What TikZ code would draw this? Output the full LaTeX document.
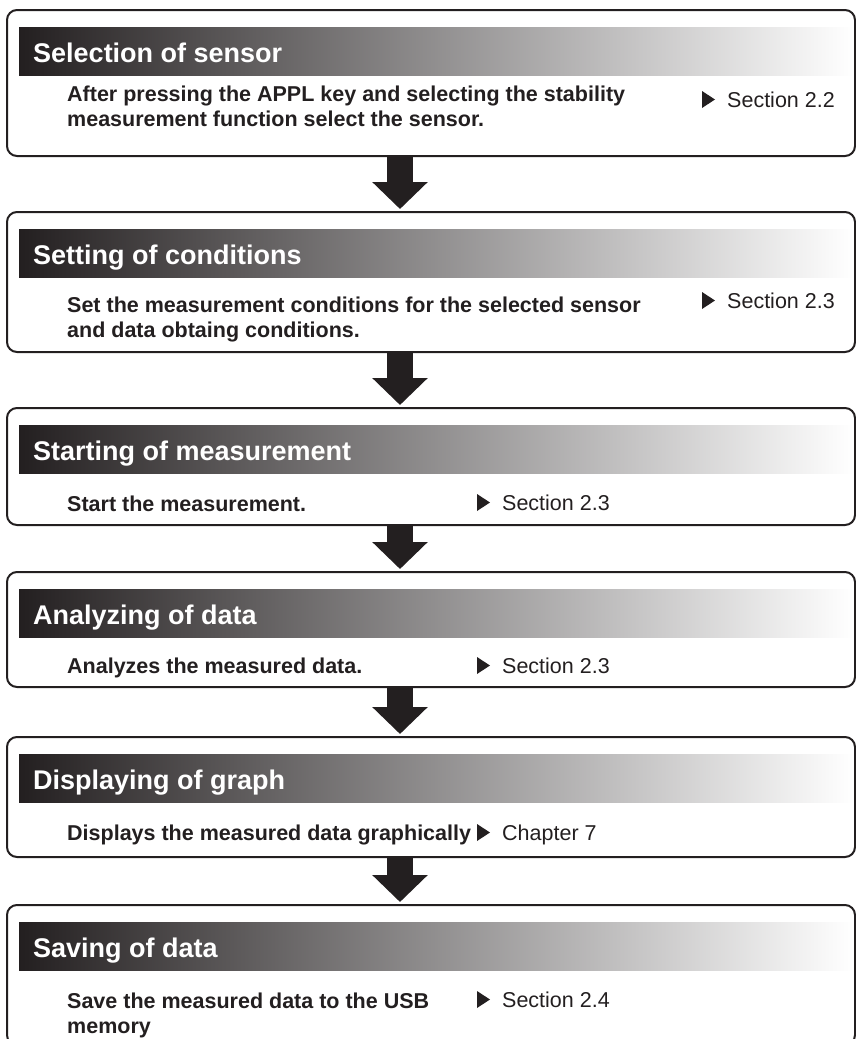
\documentclass[tikz,border=0pt]{standalone}
\usepackage{fontspec}
\setmainfont{Liberation Sans}
\usetikzlibrary{arrows.meta, calc}

\definecolor{inkdark}{RGB}{35,31,32}
\definecolor{barmid}{RGB}{140,141,146}

\tikzset{
  stage/.style={draw=inkdark, line width=2pt, rounded corners=10pt, minimum width=848pt, inner sep=0pt},
  headbar/.style={left color=inkdark, middle color=barmid, right color=white, minimum width=834pt, minimum height=48pt, inner sep=0pt},
  headtext/.style={anchor=base west, inner sep=0pt, text=white, font=\fontsize{27}{32}\selectfont\bfseries},
  bodytext/.style={anchor=base west, inner sep=0pt, align=left, text=inkdark, font=\fontsize{21.5}{25}\selectfont\bfseries},
  reftext/.style={anchor=base west, inner sep=0pt, text=inkdark, font=\fontsize{21.5}{25}\selectfont},
  flow/.style={line width=26pt, draw=inkdark, -{Triangle[width=54pt,length=27pt]}, shorten >=2pt},
}
\newcommand{\reftri}[1]{\fill[inkdark] ([xshift=-25pt,yshift=-1pt]#1.base west) -- ++(0,-17) -- ++(13,8.5) -- cycle;}

\begin{document}
\begin{tikzpicture}[x=1pt,y=-1pt]
  \useasboundingbox (0,0) rectangle (856,1039);
  \clip (0,0) rectangle (856,1039);

  % selection of sensor
  \node[stage, minimum height=146pt] (box1) at (431,83) {};
  \node[headbar] (bar1) at (436,51) {};
  \node[headtext] (head1) at (33,62) {Selection of sensor};
  % two lines: base is the last line
  \node[bodytext] (body1) at (67,126) {After pressing the APPL key and selecting the stability\\measurement function select the sensor.};
  \node[reftext] (ref1) at (727,107) {Section 2.2};
  \reftri{ref1}

  % setting of conditions
  \node[stage, minimum height=140pt] (box2) at (431,282) {};
  \node[headbar] (bar2) at (436,253) {};
  \node[headtext] (head2) at (33,264) {Setting of conditions};
  \node[bodytext] (body2) at (67,337) {Set the measurement conditions for the selected sensor\\and data obtaing conditions.};
  \node[reftext] (ref2) at (727,308) {Section 2.3};
  \reftri{ref2}

  % starting of measurement
  \node[stage, minimum height=117pt] (box3) at (431,466.5) {};
  \node[headbar] (bar3) at (436,449) {};
  \node[headtext] (head3) at (33,460) {Starting of measurement};
  \node[bodytext] (body3) at (67,511) {Start the measurement.};
  \node[reftext] (ref3) at (502,510) {Section 2.3};
  \reftri{ref3}

  % analyzing of data
  \node[stage, minimum height=115pt] (box4) at (431,629.5) {};
  \node[headbar] (bar4) at (436,613) {};
  \node[headtext] (head4) at (33,624) {Analyzing of data};
  \node[bodytext] (body4) at (67,673) {Analyzes the measured data.};
  \node[reftext] (ref4) at (502,673) {Section 2.3};
  \reftri{ref4}

  % displaying of graph
  \node[stage, minimum height=120pt] (box5) at (431,797) {};
  \node[headbar] (bar5) at (436,778) {};
  \node[headtext] (head5) at (33,789) {Displaying of graph};
  \node[bodytext] (body5) at (67,840) {Displays the measured data graphically};
  \node[reftext] (ref5) at (502,840) {Chapter 7};
  \reftri{ref5}

  % saving of data
  \node[stage, minimum height=140pt] (box6) at (431,975) {};
  \node[headbar] (bar6) at (436,946) {};
  \node[headtext] (head6) at (33,957) {Saving of data};
  \node[bodytext] (body6) at (67,1033) {Save the measured data to the USB\\memory};
  \node[reftext] (ref6) at (502,1007) {Section 2.4};
  \reftri{ref6}

  % flow arrows
  \draw[flow] ([xshift=-31pt]box1.south) -- ([xshift=-31pt]box2.north);
  \draw[flow] ([xshift=-31pt]box2.south) -- ([xshift=-31pt]box3.north);
  \draw[flow] ([xshift=-31pt]box3.south) -- ([xshift=-31pt]box4.north);
  \draw[flow] ([xshift=-31pt]box4.south) -- ([xshift=-31pt]box5.north);
  \draw[flow] ([xshift=-31pt]box5.south) -- ([xshift=-31pt]box6.north);
\end{tikzpicture}
\end{document}
